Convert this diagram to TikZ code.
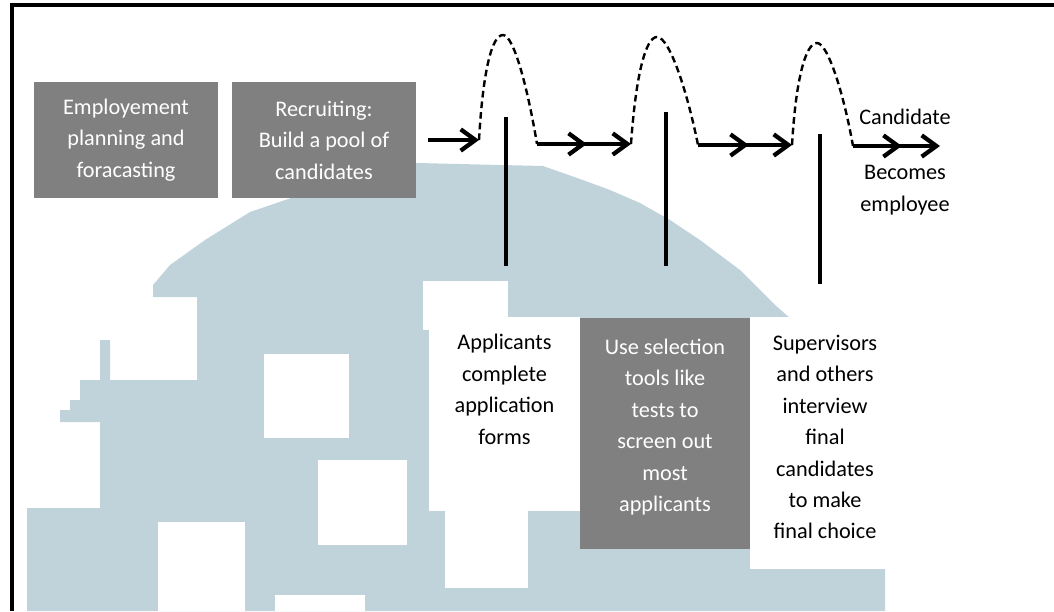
\documentclass[tikz,border=0pt]{standalone}
\usepackage{fontspec}
\setmainfont{Carlito}
\usetikzlibrary{arrows.meta,decorations.markings}
\definecolor{wmblue}{RGB}{193,211,218}
\definecolor{boxgray}{RGB}{128,128,128}
\tikzset{
  mybarb/.tip={Straight Barb[length=11pt,width=16pt]},
}
\begin{document}
\begin{tikzpicture}[x=0.75pt,y=-0.75pt,
  txt/.style={align=center,font=\fontsize{16.7}{23.6}\selectfont,inner sep=0pt},
  graybox/.style={fill=boxgray,draw=none,inner sep=0pt},
  whitebox/.style={fill=white,draw=none,inner sep=0pt},
  flowline/.style={line width=3.2pt,-{mybarb}},
  midbarb/.style={postaction={decorate},decoration={markings,mark=at position #1 with {\arrow{mybarb}}}},
  bump/.style={line width=1.8pt,dash pattern=on 5pt off 3pt},
  stem/.style={line width=3.4pt},
  frame/.style={line width=3.2pt}
]
\useasboundingbox (0,0) rectangle (1054,611);
% watermark
\fill[wmblue] (27,611) -- (27,508) -- (100,508) -- (100,422) -- (60,422) -- (60,410)
  -- (70,410) -- (70,400) -- (80,400) -- (80,380) -- (100,380) -- (100,340) -- (110,340)
  -- (110,380) -- (197,380) -- (197,297) -- (153,297) -- (153,285) -- (170,265) -- (205,240)
  -- (250,212) -- (300,195) -- (350,175) -- (417,163) -- (543,166) -- (580,179) -- (610,190)
  -- (640,203) -- (670,220) -- (700,240) -- (740,270) -- (775,305) -- (790,318) -- (830,380)
  -- (860,450) -- (878,520) -- (885,569) -- (885,611) -- cycle;
\fill[white] (264,354) rectangle (349,438);
\fill[white] (318,460) rectangle (407,545);
\fill[white] (158,522) rectangle (245,611);
\fill[white] (275,595) rectangle (365,611);
\fill[white] (423,281) rectangle (508,330);
\fill[white] (445,505) rectangle (528,588);
% frame
\draw[frame] (1054,4.7) -- (11.75,4.7) -- (11.75,611);
% upper boxes
\node[graybox,minimum width=138pt,minimum height=87pt,txt,text=white] (b1) at (126,140)
  {Employement\\planning and\\foracasting};
\node[graybox,minimum width=138pt,minimum height=87pt,txt,text=white] (b2) at (324,140)
  {Recruiting:\\Build a pool of\\candidates};
% lower boxes
\node[whitebox,minimum width=113.25pt,minimum height=145.5pt] (b4) at (504.5,414) {};
\node[graybox,minimum width=127.5pt,minimum height=173.25pt] (b3) at (665,433.5) {};
\node[whitebox,minimum width=109.5pt,minimum height=189pt] (b5) at (823,443) {};
\node[txt] (t4) at (504.5,389.5) {Applicants\\complete\\application\\forms};
\node[txt,text=white] (t3) at (665,427) {Use selection\\tools like\\tests to\\screen out\\most\\applicants};
\node[txt] (t5) at (825,437) {Supervisors\\and others\\interview\\final\\candidates\\to make\\final choice};
\node[txt] (cand) at (905,117) {Candidate};
\node[txt] (bec) at (905,190) {Becomes\\employee};
% flow
\coordinate (a0) at (428,140);
\coordinate (p1L) at (479,140);
\coordinate (k1) at (503,35);
\coordinate (p1R) at (537,144);
\coordinate (p2L) at (631,144);
\coordinate (k2) at (657,37);
\coordinate (p2R) at (698,145);
\coordinate (p3L) at (792,145);
\coordinate (k3) at (817,43);
\coordinate (p3R) at (853,146);
\coordinate (fin) at (940,146);
\draw[flowline] (a0) -- (p1L);
\draw[flowline,midbarb=0.53] (p1R) -- (p2L);
\draw[flowline,midbarb=0.54] (p2R) -- (p3L);
\draw[flowline,midbarb=0.56] (p3R) -- (fin);
\draw[bump] (p1L) .. controls +(4,-70) and +(-11,0) .. (k1) .. controls +(11,0) and +(-9,-54) .. (p1R);
\draw[bump] (p2L) .. controls +(5,-71) and +(-11,0) .. (k2) .. controls +(13,0) and +(-10,-50) .. (p2R);
\draw[bump] (p3L) .. controls +(4,-68) and +(-11,0) .. (k3) .. controls +(11,0) and +(-9,-51) .. (p3R);
% stems
\coordinate (s1t) at (506,117); \coordinate (s1b) at (506,266);
\coordinate (s2t) at (666,112); \coordinate (s2b) at (666,266);
\coordinate (s3t) at (820,134); \coordinate (s3b) at (820,284);
\draw[stem] (s1t) -- (s1b);
\draw[stem] (s2t) -- (s2b);
\draw[stem] (s3t) -- (s3b);
\end{tikzpicture}
\end{document}
